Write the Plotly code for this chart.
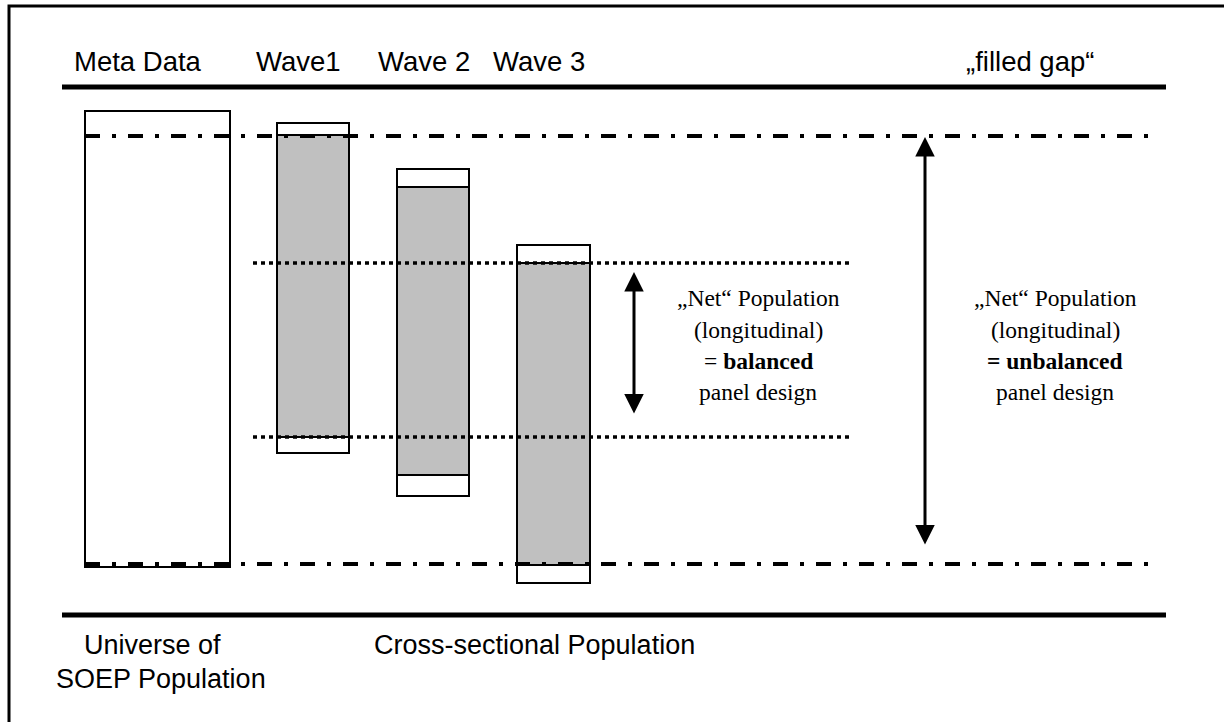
import plotly.graph_objects as go

# ---------------- data (diagram units = pixels of the 1224x722 canvas) -------------
box_labels = ["Meta Data", "Wave1", "Wave 2", "Wave 3"]
box_label_x = [138, 298, 424, 539]
box_left = [85, 277, 397, 517]
box_right = [230, 349, 469, 590]
box_top = [111, 123, 169, 245]
box_bottom = [567, 453, 496, 583]
net_top = [None, 135, 187, 263]      # grey "net" part of each wave
net_bottom = [None, 437, 475, 565]

unbalanced_bounds = [136, 564]        # dash-dot lines
balanced_bounds = [263, 437]          # dotted lines
balanced_arrow = [272, 415]
unbalanced_arrow = [137, 546]

header_y = 61
footer_labels = ["Universe of", "SOEP Population", "Cross-sectional Population"]
footer_x = [152, 161, 534]
footer_y = [645, 679, 645]

balanced_lines = ["„Net“ Population", "(longitudinal)", "= <b>balanced</b>", "panel design"]
unbalanced_lines = ["„Net“ Population", "(longitudinal)", "<b>= unbalanced</b>", "panel design"]
text_line_y = [298, 330, 361, 392]

SANS = "Liberation Sans, Arial, sans-serif"
SERIF = "Liberation Serif, Times New Roman, serif"

fig = go.Figure()
shapes = []
annotations = []

# outer frame
shapes.append(dict(type="rect", xref="x", yref="y", x0=9, y0=6, x1=1260, y1=760,
                   line=dict(color="black", width=3), fillcolor="rgba(0,0,0,0)", layer="above"))

# thick header/footer rules
for yy in [87, 615]:
    shapes.append(dict(type="line", xref="x", yref="y", x0=62, x1=1166, y0=yy, y1=yy,
                       line=dict(color="black", width=5), layer="above"))

# boxes
for i in range(len(box_labels)):
    shapes.append(dict(type="rect", xref="x", yref="y", x0=box_left[i], x1=box_right[i],
                       y0=box_top[i], y1=box_bottom[i],
                       line=dict(color="black", width=2),
                       fillcolor="white" if i > 0 else "rgba(0,0,0,0)", layer="below"))
    if net_top[i] is not None:
        shapes.append(dict(type="rect", xref="x", yref="y", x0=box_left[i], x1=box_right[i],
                           y0=net_top[i], y1=net_bottom[i],
                           line=dict(color="black", width=2),
                           fillcolor="#c0c0c0", layer="below"))

# dash-dot lines (unbalanced bounds)
for yy in unbalanced_bounds:
    shapes.append(dict(type="line", xref="x", yref="y", x0=85, x1=1158, y0=yy, y1=yy,
                       line=dict(color="black", width=4, dash="15px,12px,4px,12px"), layer="above"))
# dotted lines (balanced bounds)
for yy in balanced_bounds:
    shapes.append(dict(type="line", xref="x", yref="y", x0=253, x1=850, y0=yy, y1=yy,
                       line=dict(color="black", width=3.5, dash="4px,4px"), layer="above"))

# arrows
for ax_x, (ya, yb) in [(634, balanced_arrow), (925, unbalanced_arrow)]:
    annotations.append(dict(x=ax_x, y=ya, ax=ax_x, ay=yb, xref="x", yref="y", axref="x", ayref="y",
                            text="", showarrow=True, arrowhead=2, startarrowhead=2,
                            arrowside="end+start", arrowwidth=3, arrowsize=1.3,
                            startarrowsize=1.3, arrowcolor="black", standoff=0, startstandoff=0))

# header labels
for lab, xx in zip(box_labels, box_label_x):
    annotations.append(dict(x=xx, y=header_y, xref="x", yref="y", text=lab, showarrow=False,
                            xanchor="center", yanchor="middle",
                            font=dict(family=SANS, size=27.5, color="black")))
annotations.append(dict(x=1030, y=header_y, xref="x", yref="y", text="„filled gap“", showarrow=False,
                        xanchor="center", yanchor="middle",
                        font=dict(family=SANS, size=27.5, color="black")))

# footer labels
for lab, xx, yy in zip(footer_labels, footer_x, footer_y):
    annotations.append(dict(x=xx, y=yy, xref="x", yref="y", text=lab, showarrow=False,
                            xanchor="center", yanchor="middle",
                            font=dict(family=SANS, size=27, color="black")))

# serif explanatory text
for lines, cx in [(balanced_lines, 758), (unbalanced_lines, 1055)]:
    for t, yy in zip(lines, text_line_y):
        annotations.append(dict(x=cx, y=yy, xref="x", yref="y", text=t, showarrow=False,
                                xanchor="center", yanchor="middle",
                                font=dict(family=SERIF, size=23.5, color="black")))

fig.update_layout(
    width=1224, height=722,
    margin=dict(l=0, r=0, t=0, b=0),
    paper_bgcolor="white", plot_bgcolor="white",
    xaxis=dict(range=[0, 1224], visible=False, fixedrange=True),
    yaxis=dict(range=[722, 0], visible=False, fixedrange=True),
    shapes=shapes, annotations=annotations, showlegend=False,
)

fig.write_html("out.html", config={"displayModeBar": False},
               post_script="document.body.style.margin='0';document.body.style.overflow='hidden';")
